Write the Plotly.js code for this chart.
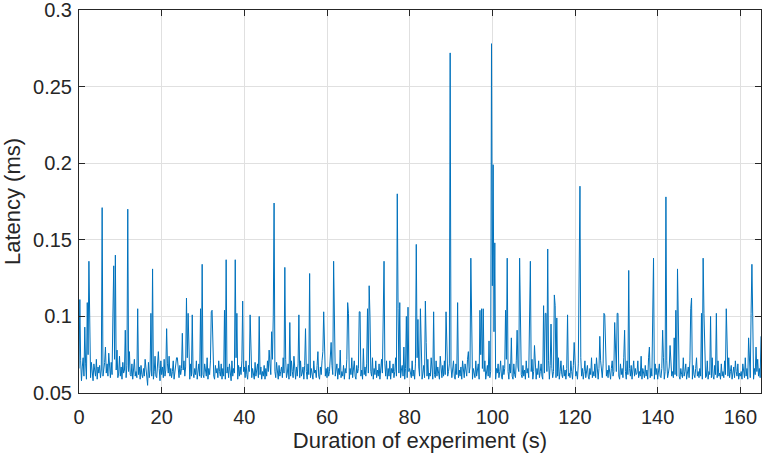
<!DOCTYPE html>
<html>
<head>
<meta charset="utf-8">
<script src="https://cdn.plot.ly/plotly-3.0.1.min.js"></script>
<style>
  html, body { margin: 0; padding: 0; background: #fff; }
  #latency_plot { width: 764px; height: 459px; }
</style>
</head>
<body>
<div id="latency_plot"></div>
<script>
// sampling of the trace, in seconds
var dt = 0.2;
var duration = 165;

// baseline latency in microseconds, 5 samples per second (one row = 5 s)
var baseline_us = [
  66,60,71,58,67,73,61,64,69,59,65,75,62,68,60,70,63,58,69,65,61,72,59,67,63,
  68,60,65,73,61,66,70,59,63,69,61,76,64,60,70,62,67,58,72,61,65,69,60,63,74,
  61,67,59,70,63,65,72,60,68,58,64,77,62,61,69,59,66,72,61,64,60,71,62,67,59,
  68,62,60,66,61,72,64,57,63,70,60,65,69,61,67,59,64,74,61,60,68,62,66,58,71,
  62,67,60,72,61,65,59,69,63,74,61,66,60,64,71,59,63,67,61,73,64,60,68,62,66,
  59,65,71,61,67,60,73,62,64,59,69,61,75,63,60,66,62,71,59,65,69,61,67,60,72,
  62,60,69,64,61,73,59,66,62,71,60,65,77,61,59,68,63,66,60,71,64,61,69,59,66,
  61,65,59,72,63,67,60,69,64,58,71,61,66,63,60,73,64,59,68,61,67,62,71,60,64,
  67,60,71,62,59,68,64,61,73,60,66,62,59,70,61,65,69,60,75,62,67,59,64,61,68,
  59,66,61,71,64,60,69,62,59,72,61,67,64,60,70,62,59,68,61,64,67,60,73,63,61,
  72,60,63,69,59,66,61,71,64,60,74,62,59,67,61,69,64,60,71,61,63,67,59,68,64,
  64,59,69,62,73,60,66,61,59,71,63,65,60,68,77,61,59,67,62,71,60,64,69,61,66,
  60,67,61,64,71,59,68,62,60,73,61,65,69,59,66,62,71,60,64,61,68,59,66,63,72,
  68,61,59,66,62,73,60,64,71,61,59,68,63,66,60,74,61,65,59,71,62,67,61,69,60,
  63,60,68,64,61,73,59,66,62,71,60,65,61,69,59,66,72,63,60,64,69,61,71,59,66,
  61,71,59,66,63,69,60,64,73,61,59,67,63,71,60,65,68,61,76,59,66,62,60,69,64,
  66,62,60,71,61,65,59,69,63,73,60,67,61,64,71,59,63,68,60,66,64,61,72,59,63,
  61,73,64,59,69,62,60,71,61,67,63,59,74,64,60,68,61,71,62,59,66,61,64,69,60,
  67,60,64,71,61,59,69,62,73,60,65,61,67,59,71,63,60,69,64,61,72,59,63,67,61,
  73,59,66,62,60,71,61,65,69,59,63,75,60,66,61,64,71,59,63,68,61,67,60,64,71,
  60,65,61,73,59,66,63,69,60,64,71,61,59,68,62,66,60,72,61,64,59,69,63,66,61,
  59,69,62,60,71,61,67,64,59,73,62,60,68,61,65,59,71,63,66,60,69,61,64,72,59,
  64,61,73,59,66,62,71,60,64,69,61,59,67,63,78,60,64,61,71,59,68,62,66,60,64,
  68,62,60,66,61,73,59,64,71,62,60,68,61,65,59,66,72,61,63,60,71,64,59,68,61,
  71,61,64,59,69,62,60,73,61,66,59,64,71,60,63,68,61,59,66,62,73,60,64,61,69,
  60,73,62,59,66,61,71,64,60,69,63,59,75,61,65,60,68,62,59,66,71,61,64,60,72,
  64,60,71,61,59,69,62,66,60,73,61,64,59,71,62,60,66,61,68,59,64,71,61,66,62,
  63,71,60,64,61,74,59,66,62,60,68,61,65,59,73,62,60,66,61,71,64,59,69,62,66,
  59,64,69,61,60,66,62,73,59,64,61,71,60,63,67,59,69,61,64,60,71,62,66,61,64,
  71,61,59,66,62,60,73,61,64,69,59,63,67,60,71,61,64,59,68,62,60,66,73,61,64,
  60,66,61,73,59,64,62,69,60,61,71,59,64,62,67,60,73,61,59,68,62,66,60,71,61,
  63,59,69,61,64,60,71,62,59,66,61,73,60,64,68,59,63,67,60,71,64,61,69,59,63,
  61,64,59,69,62,60,73,61,66,59,64,71,60,63,68,61,59,66,62,60,64,72,61,66,60,
  64
];

// latency spikes: time (s) and latency (us)
var spike_t = [
  0.2, 1.4, 2.0, 2.4, 5.6, 6.4, 8.2, 8.4, 8.8, 9.2,
  11.2, 11.8, 14.2, 16.6, 17.4, 17.8, 19.2, 21.2, 23.6, 25.0,
  26.0, 26.4, 27.4, 29.4, 29.8, 32.0, 32.2, 35.2, 35.6, 37.8,
  38.2, 39.6, 41.4, 43.6, 46.0, 46.6, 47.0, 47.2, 49.8, 51.0,
  53.2, 54.8, 55.8, 59.0, 59.2, 61.0, 61.6, 61.8, 63.2, 65.0,
  65.2, 67.8, 68.0, 68.8, 69.8, 70.2, 70.4, 73.6, 73.8, 77.0,
  77.2, 77.6, 78.6, 79.2, 79.6, 81.6, 82.0, 82.6, 83.8, 84.0,
  85.8, 88.8, 89.8, 91.6, 94.2, 94.8, 97.0, 97.4, 97.8, 99.2,
  99.8, 100.0, 100.2, 100.4, 100.6, 103.2, 103.6, 104.6, 106.0, 106.6,
  109.0, 109.2, 110.2, 112.4, 112.8, 113.0, 113.4, 114.2, 115.0, 115.2,
  115.6, 118.2, 119.8, 121.0, 121.2, 126.0, 127.0, 127.2, 129.6, 130.2,
  130.4, 132.0, 133.0, 138.0, 138.8, 139.0, 141.2, 142.0, 143.0, 144.0,
  144.4, 144.8, 148.0, 148.2, 150.6, 151.0, 151.2, 152.8, 154.2, 156.6,
  162.0, 162.6, 162.8, 163.0, 163.8, 165.0
];
var spike_us = [
  111, 93, 109, 136, 171, 80, 100, 133, 140, 78,
  91, 170, 105, 55, 102, 131, 77, 92, 73, 89,
  112, 102, 101, 105, 134, 103, 104, 104, 137, 137,
  102, 110, 101, 100, 78, 90, 100, 174, 132, 96,
  101, 92, 128, 77, 103, 83, 136, 101, 78, 109,
  102, 103, 103, 79, 105, 120, 100, 105, 136, 180,
  105, 109, 80, 100, 106, 147, 98, 105, 110, 83,
  103, 103, 272, 109, 77, 138, 104, 105, 105, 84,
  278, 120, 199, 90, 148, 104, 138, 86, 91, 138,
  103, 136, 81, 107, 102, 102, 144, 95, 114, 107,
  99, 101, 83, 115, 185, 87, 102, 101, 96, 102,
  102, 91, 130, 80, 98, 138, 91, 178, 81, 86,
  104, 131, 105, 112, 102, 138, 102, 100, 102, 105,
  86, 102, 134, 100, 80, 87
];

var y_ticks = [0.05, 0.1, 0.15, 0.2, 0.25, 0.3];

// putting the trace together, converted to ms
var latency_us = baseline_us.slice();
spike_t.forEach((t, k) => {
  var i = Math.round(t / dt);
  if (i < latency_us.length) latency_us[i] = spike_us[k];
});
var time_s = latency_us.map((v, i) => i * dt);
var latency_ms = latency_us.map(v => v / 1000);

var trace1 = {
  x: time_s,
  y: latency_ms,
  type: 'scatter',
  mode: 'lines',
  line: {color: '#0072bd', width: 1},
  hoverinfo: 'skip'
};

var font_family = 'Liberation Sans, Arial, Helvetica, sans-serif';

var axis_style = {
  showline: true,
  mirror: 'ticks',
  linecolor: '#262626',
  linewidth: 1,
  ticks: 'inside',
  ticklen: 6,
  tickwidth: 1,
  tickcolor: '#262626',
  showgrid: true,
  gridcolor: '#e0e0e0',
  gridwidth: 1,
  zeroline: false,
  ticklabeloverflow: 'allow',
  tickfont: {family: font_family, size: 20, color: '#262626'}
};

var layout = {
  width: 764,
  height: 459,
  margin: {l: 79, r: 3, t: 10, b: 66},
  paper_bgcolor: '#ffffff',
  plot_bgcolor: '#ffffff',
  showlegend: false,
  hovermode: false,
  xaxis: Object.assign({}, axis_style, {
    range: [0, duration],
    tick0: 0,
    dtick: 20,
    ticklabelstandoff: 6,
    title: {
      text: 'Duration of experiment (s)',
      font: {family: font_family, size: 22, color: '#262626'},
      standoff: 4
    }
  }),
  yaxis: Object.assign({}, axis_style, {
    range: [0.05, 0.3],
    tickmode: 'array',
    tickvals: y_ticks,
    ticklabelstandoff: 2,
    title: {
      text: 'Latency (ms)',
      font: {family: font_family, size: 22, color: '#262626'},
      standoff: 6
    }
  })
};

Plotly.newPlot('latency_plot', [trace1], layout, {displayModeBar: false, staticPlot: true});
</script>
</body>
</html>
